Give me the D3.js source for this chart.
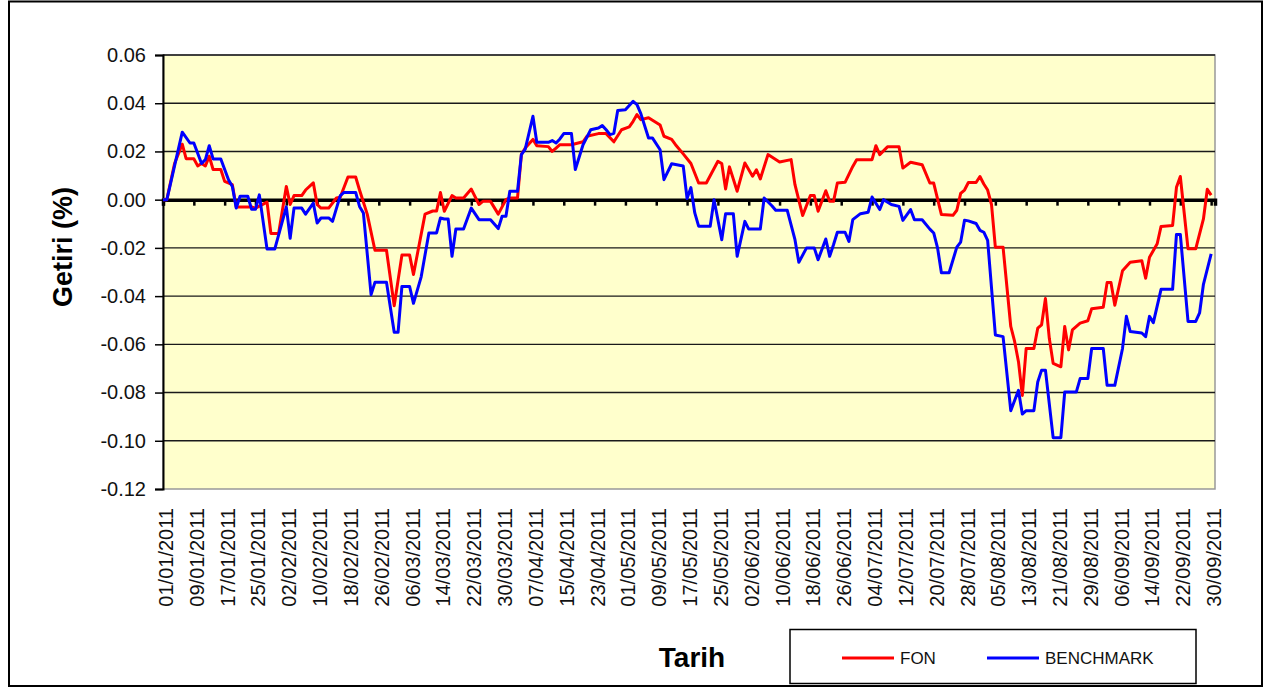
<!DOCTYPE html>
<html>
<head>
<meta charset="utf-8">
<script src="https://cdn.jsdelivr.net/npm/d3@7"></script>
<style>
  body { margin: 0; background: #fff; }
  svg { display: block; font-family: Arial, "Liberation Sans", sans-serif; }
</style>
</head>
<body>
<svg id="chart" width="1270" height="687"></svg>
<script>
// FON: dates (dd/mm, 2011) and returns
const fonDates = ["01/01","02/01","04/01","06/01","07/01","09/01","10/01","11/01","12/01","13/01","14/01","16/01","17/01","19/01","20/01","24/01","25/01","28/01","29/01","31/01",
  "02/02","03/02","04/02","06/02","07/02","09/02","10/02","11/02","13/02","15/02","16/02","18/02","20/02","21/02","23/02","25/02","28/02",
  "02/03","04/03","06/03","07/03","10/03","12/03","13/03","14/03","15/03","17/03","18/03","20/03","22/03","24/03","25/03","27/03","29/03","31/03",
  "01/04","03/04","04/04","05/04","07/04","08/04","11/04","12/04","13/04","14/04","17/04","20/04","21/04","24/04","26/04","28/04","30/04",
  "02/05","03/05","04/05","05/05","07/05","10/05","11/05","13/05","14/05","16/05","18/05","20/05","22/05","25/05","26/05","27/05","28/05","30/05",
  "01/06","03/06","04/06","05/06","07/06","10/06","13/06","14/06","16/06","18/06","19/06","20/06","22/06","23/06","24/06","25/06","27/06","29/06","30/06",
  "04/07","05/07","06/07","08/07","11/07","12/07","14/07","17/07","19/07","20/07","22/07","25/07","26/07","27/07","28/07","29/07","31/07",
  "01/08","02/08","03/08","04/08","05/08","07/08","09/08","10/08","11/08","12/08","13/08","15/08","16/08","17/08","18/08","19/08","20/08","22/08","23/08","24/08","25/08","27/08","29/08","30/08",
  "02/09","03/09","04/09","05/09","07/09","09/09","12/09","13/09","14/09","16/09","17/09","20/09","21/09","22/09","24/09","26/09","28/09","29/09","30/09"];
const fonValues = [0, 0, 0.015, 0.023, 0.017, 0.017, 0.014, 0.015, 0.014, 0.018, 0.0125, 0.0125, 0.0076, 0.0062, -0.003, -0.003, -0.0035, -0.001, -0.014, -0.014,
  0.0055, -0.002, 0.0017, 0.0017, 0.004, 0.007, -0.002, -0.0035, -0.0035, 0.0007, 0.001, 0.0094, 0.0094, 0.004, -0.006, -0.021, -0.021,
  -0.044, -0.023, -0.023, -0.031, -0.006, -0.0047, -0.0047, 0.003, -0.0048, 0.0017, 0.0007, 0.0007, 0.0044, -0.002, -0.0007, -0.0007, -0.006, 0,
  0.0007, 0.0007, 0.0187, 0.0214, 0.025, 0.0224, 0.022, 0.020, 0.0214, 0.0228, 0.0228, 0.024, 0.0263, 0.0274, 0.0274, 0.024, 0.029,
  0.0302, 0.0325, 0.0353, 0.0332, 0.034, 0.031, 0.0263, 0.025, 0.0228, 0.019, 0.015, 0.0069, 0.0069, 0.0159, 0.015, 0.0044, 0.0136, 0.0035,
  0.0152, 0.0097, 0.0124, 0.0086, 0.0187, 0.0156, 0.0166, 0.0062, -0.0066, 0.0017, 0.0017, -0.0048, 0.0037, -0.0007, -0.0007, 0.0069, 0.0072, 0.0138, 0.0166,
  0.0166, 0.0224, 0.0187, 0.0219, 0.0219, 0.0131, 0.0155, 0.0145, 0.0069, 0.0069, -0.0062, -0.0065, -0.0044, 0.0026, 0.004, 0.0071, 0.0071,
  0.0096, 0.0065, 0.004, -0.002, -0.0197, -0.0197, -0.0526, -0.0588, -0.0672, -0.0812, -0.0617, -0.0617, -0.0533, -0.0519, -0.041, -0.0575, -0.0679, -0.0693, -0.0526, -0.0623, -0.054, -0.0512, -0.0502, -0.0452,
  -0.0446, -0.0344, -0.0344, -0.0438, -0.0295, -0.026, -0.0253, -0.0326, -0.0239, -0.0183, -0.0111, -0.0107, 0.0051, 0.0096, -0.0204, -0.0204, -0.008, 0.0043, 0.0019];

// BENCHMARK
const benchDates = ["01/01","02/01","04/01","06/01","08/01","09/01","11/01","12/01","13/01","14/01","16/01","18/01","19/01","20/01","21/01","23/01","24/01","25/01","26/01","28/01","30/01",
  "02/02","03/02","04/02","06/02","07/02","09/02","10/02","11/02","13/02","14/02","16/02","17/02","20/02","21/02","22/02","24/02","25/02","28/02",
  "02/03","03/03","04/03","06/03","07/03","09/03","11/03","13/03","14/03","15/03","16/03","17/03","18/03","20/03","22/03","24/03","27/03","29/03","30/03","31/03",
  "01/04","03/04","04/04","05/04","07/04","08/04","11/04","12/04","13/04","14/04","15/04","17/04","18/04","20/04","22/04","24/04","25/04","26/04","27/04","28/04","29/04",
  "01/05","03/05","04/05","05/05","07/05","08/05","10/05","11/05","13/05","16/05","17/05","18/05","19/05","20/05","23/05","24/05","26/05","27/05","29/05","30/05",
  "01/06","02/06","05/06","06/06","08/06","09/06","12/06","14/06","15/06","17/06","19/06","20/06","22/06","23/06","24/06","25/06","27/06","28/06","29/06",
  "01/07","03/07","04/07","06/07","07/07","09/07","11/07","12/07","14/07","15/07","17/07","19/07","20/07","21/07","22/07","24/07","26/07","27/07","28/07","29/07","31/07",
  "01/08","02/08","03/08","05/08","07/08","09/08","10/08","11/08","12/08","13/08","15/08","16/08","17/08","18/08","20/08","22/08","23/08","26/08","27/08","29/08","30/08",
  "02/09","03/09","05/09","07/09","08/09","09/09","12/09","13/09","14/09","15/09","17/09","20/09","21/09","22/09","24/09","26/09","27/09","28/09","30/09"];
const benchValues = [0, 0, 0.014, 0.028, 0.0235, 0.0235, 0.015, 0.0166, 0.0224, 0.0169, 0.0169, 0.0083, 0.0055, -0.0035, 0.0014, 0.0014, -0.004, -0.004, 0.002, -0.0205, -0.0205,
  -0.003, -0.016, -0.0035, -0.0035, -0.006, -0.0014, -0.0097, -0.0076, -0.0076, -0.009, 0.0017, 0.003, 0.003, -0.0028, -0.0055, -0.0394, -0.0343, -0.0343,
  -0.055, -0.055, -0.036, -0.036, -0.043, -0.032, -0.0138, -0.0138, -0.0076, -0.008, -0.008, -0.0235, -0.0122, -0.0122, -0.0035, -0.0083, -0.0083, -0.012, -0.0069, -0.0069,
  0.0035, 0.0035, 0.0187, 0.021, 0.0346, 0.0238, 0.0238, 0.0245, 0.0235, 0.0252, 0.0274, 0.0274, 0.0125, 0.0228, 0.029, 0.0297, 0.0307, 0.029, 0.027, 0.0275, 0.037,
  0.0373, 0.0408, 0.0394, 0.0357, 0.0256, 0.0256, 0.0207, 0.0083, 0.0149, 0.014, 0.0005, 0.005, -0.0055, -0.011, -0.011, 0, -0.0166, -0.0058, -0.0058, -0.0235,
  -0.009, -0.0122, -0.0122, 0.0007, -0.0025, -0.0044, -0.0044, -0.0166, -0.026, -0.02, -0.02, -0.0249, -0.0163, -0.0235, -0.0187, -0.0135, -0.0135, -0.0173, -0.0083,
  -0.0058, -0.0052, 0.0011, -0.0041, 0, -0.002, -0.0028, -0.0086, -0.0041, -0.0083, -0.0083, -0.0122, -0.0138, -0.02, -0.0303, -0.0303, -0.0197, -0.0176, -0.0085, -0.0088, -0.0099,
  -0.0127, -0.0135, -0.0169, -0.0561, -0.0568, -0.0875, -0.0833, -0.0791, -0.0889, -0.0875, -0.0875, -0.0756, -0.0707, -0.0707, -0.0987, -0.0987, -0.0798, -0.0798, -0.0742, -0.0742, -0.0617,
  -0.0617, -0.077, -0.077, -0.0617, -0.0484, -0.0547, -0.0553, -0.0568, -0.0484, -0.051, -0.0372, -0.0372, -0.0144, -0.0144, -0.0505, -0.0505, -0.047, -0.0351, -0.0225];

const yTicks = [0.06, 0.04, 0.02, 0.00, -0.02, -0.04, -0.06, -0.08, -0.10, -0.12];
const seriesNames = ["FON", "BENCHMARK"];
const seriesColors = ["#ff0000", "#0000ff"];

const parseDate = s => d3.utcParse("%d/%m/%Y")(s + "/2011");
const start = parseDate("01/01"), end = parseDate("01/10");
const xTicks = d3.range(0, 273, 8).map(d => d3.utcDay.offset(start, d));

const svg = d3.select("#chart");
const plot = { left: 163, top: 55, right: 1215, bottom: 489 };

// outer frame
svg.append("rect")
  .attr("x", 9).attr("y", 1.5).attr("width", 1253).attr("height", 684.5)
  .attr("fill", "#fff").attr("stroke", "#000").attr("stroke-width", 2);

let x = d3.scaleUtc().domain([start, end]).range([plot.left, plot.right]);
let y = d3.scaleLinear().domain([-0.12, 0.06]).range([plot.bottom, plot.top]);

// plot area
svg.append("rect")
  .attr("x", plot.left).attr("y", plot.top)
  .attr("width", plot.right - plot.left).attr("height", plot.bottom - plot.top)
  .attr("fill", "#ffffcc").attr("stroke", "#999").attr("stroke-width", 1.5);

// gridlines
svg.append("g")
  .selectAll("line")
  .data(yTicks.filter(t => t !== 0 && t > -0.12))
  .enter()
  .append("line")
  .attr("x1", plot.left).attr("x2", plot.right)
  .attr("y1", d => y(d)).attr("y2", d => y(d))
  .attr("stroke", "#1a1a1a").attr("stroke-width", 1.4);

// y axis
let yAxis = svg.append("g")
  .attr("transform", `translate(${plot.left},0)`)
  .call(d3.axisLeft(y).tickValues(yTicks).tickSize(8).tickPadding(9).tickFormat(d3.format(".2f")));
yAxis.select(".domain").attr("stroke", "#000").attr("stroke-width", 2);
yAxis.selectAll(".tick line").attr("stroke", "#000").attr("stroke-width", 1.5);
yAxis.selectAll(".tick text")
  .attr("font-size", 20).attr("fill", "#111")
  .attr("font-family", "Arial, 'Liberation Sans', sans-serif")
  .text(d => d3.format(".2f")(d).replace("\u2212", "-"));

// zero line with date tick marks
let xAxis = svg.append("g")
  .attr("transform", `translate(0,${y(0)})`)
  .call(d3.axisBottom(x).tickValues(xTicks).tickSize(6).tickFormat(""));
xAxis.select(".domain").attr("stroke", "#000").attr("stroke-width", 3.5);
xAxis.selectAll(".tick line").attr("stroke", "#000").attr("stroke-width", 2.5);

// date labels below the plot
svg.append("g")
  .selectAll("text")
  .data(xTicks)
  .enter()
  .append("text")
  .attr("transform", d => `translate(${x(d) + 3},508) rotate(-90)`)
  .attr("dy", "0.35em")
  .attr("text-anchor", "end")
  .attr("font-size", 20)
  .attr("fill", "#111")
  .text(d3.utcFormat("%d/%m/%Y"));

// series
const series = [
  { name: seriesNames[0], color: seriesColors[0], pts: fonDates.map((d, i) => [parseDate(d), fonValues[i]]) },
  { name: seriesNames[1], color: seriesColors[1], pts: benchDates.map((d, i) => [parseDate(d), benchValues[i]]) }
];
let line = d3.line().x(d => x(d[0])).y(d => y(d[1]));
svg.append("g")
  .selectAll("path")
  .data(series)
  .enter()
  .append("path")
  .attr("d", d => line(d.pts))
  .attr("fill", "none")
  .attr("stroke", d => d.color)
  .attr("stroke-width", 3)
  .attr("stroke-linejoin", "round");

// axis titles
svg.append("text")
  .attr("transform", "translate(72,247) rotate(-90)")
  .attr("text-anchor", "middle")
  .attr("font-size", 27).attr("font-weight", "bold")
  .text("Getiri (%)");

svg.append("text")
  .attr("x", 692).attr("y", 667)
  .attr("text-anchor", "middle")
  .attr("font-size", 28).attr("font-weight", "bold")
  .text("Tarih");

// legend
let legend = svg.append("g");
legend.append("rect")
  .attr("x", 790).attr("y", 629.5).attr("width", 406).attr("height", 54)
  .attr("fill", "#fff").attr("stroke", "#000").attr("stroke-width", 1.5);
let items = legend.selectAll("g")
  .data(series)
  .enter()
  .append("g")
  .attr("transform", (d, i) => `translate(${[842, 987][i]},658)`);
items.append("line")
  .attr("x1", 0).attr("x2", 52)
  .attr("stroke", d => d.color).attr("stroke-width", 3);
items.append("text")
  .attr("x", 58).attr("dy", "0.35em")
  .attr("font-size", 17).attr("fill", "#111")
  .text(d => d.name);
</script>
</body>
</html>
